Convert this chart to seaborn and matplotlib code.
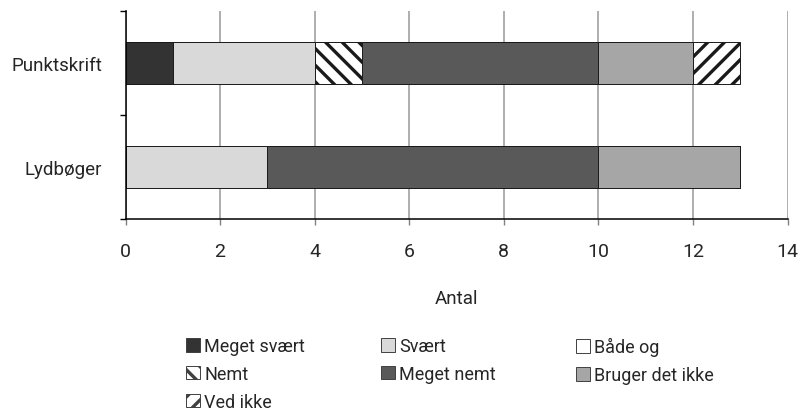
import numpy as np
import pandas as pd
import matplotlib.pyplot as plt
import seaborn as sns
from matplotlib.patches import Patch

# data
kategorier = ["Punktskrift", "Lydbøger"]
svar = ["Meget svært", "Svært", "Både og", "Nemt", "Meget nemt", "Bruger det ikke", "Ved ikke"]
punktskrift = [1, 3, 0, 1, 5, 2, 1]
lydboeger = [0, 3, 0, 0, 7, 3, 0]
x_ticks = [0, 2, 4, 6, 8, 10, 12, 14]

farver = ["#333333", "#d9d9d9", "#ffffff", "#ffffff", "#595959", "#a6a6a6", "#ffffff"]
skravering = [None, None, None, "\\\\", None, None, "//"]

sns.set_theme(style="white")
plt.rcParams["font.family"] = ["Roboto", "DejaVu Sans"]
plt.rcParams["hatch.linewidth"] = 2.4
tekst = "#262626"

fig = plt.figure(figsize=(7.98, 4.14), dpi=100)
ax = fig.add_axes([125.5 / 798, 194 / 414, 662 / 798, 208 / 414])

df = pd.DataFrame({"kategori": kategorier})
cum = np.cumsum(np.array([punktskrift, lydboeger]), axis=1)

# stacked bars: draw cumulative totals from the outermost segment inwards
for i in range(len(svar) - 1, -1, -1):
    df["v"] = cum[:, i]
    sns.barplot(data=df, x="v", y="kategori", orient="h", ax=ax,
                color=farver[i], saturation=1, width=0.4,
                hatch=skravering[i], edgecolor="#1a1a1a",
                linewidth=0.7, errorbar=None)

ax.set_xlim(0, 14)
ax.set_ylim(1.5, -0.5)
ax.set_xticks(x_ticks)
ax.grid(axis="x", color="#999999", linewidth=1.1)
ax.set_axisbelow(True)
for s in ["top", "right"]:
    ax.spines[s].set_visible(False)
for s in ["left", "bottom"]:
    ax.spines[s].set_color("black")
    ax.spines[s].set_linewidth(1.1)
ax.set_yticks([0, 1])
ax.set_yticklabels(kategorier)
ax.set_yticks([-0.5, 0.5, 1.5], minor=True)
ax.tick_params(axis="y", which="major", length=0, pad=17, labelsize=13.5, colors=tekst)
ax.tick_params(axis="y", which="minor", length=4.5, width=1, color="black", left=True)
ax.tick_params(axis="x", length=4.5, width=1, color="#808080", bottom=True,
               pad=12, labelsize=14, labelcolor=tekst)
ax.set_xlabel("Antal", fontsize=13.5, labelpad=21, color=tekst)
ax.set_ylabel("")

# legend, one column per legend object
kolonner = [[0, 3, 6], [1, 4], [2, 5]]
xs = [186 / 798, 381 / 798, 576 / 798]
for xk, idx in zip(xs, kolonner):
    handles = [Patch(facecolor=farver[j], hatch=skravering[j], edgecolor="#404040",
                     linewidth=0.7, label=svar[j]) for j in idx]
    fig.legend(handles=handles, loc="upper left", bbox_to_anchor=(xk, 0.183),
               frameon=False, fontsize=13, handlelength=0.75, handleheight=0.75,
               handletextpad=0.25, labelspacing=0.55, borderaxespad=0, borderpad=0,
               labelcolor=tekst)

fig.savefig("out.png", dpi=100)
